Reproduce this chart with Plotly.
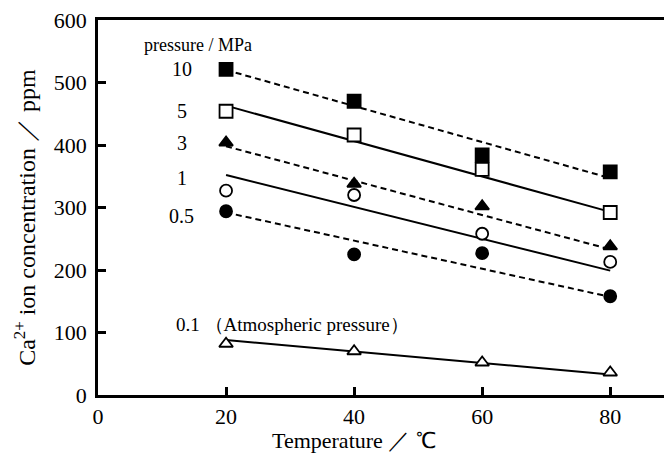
import plotly.graph_objects as go

temperature = [20, 40, 60, 80]
p10 = [521, 470, 384, 357]
p5 = [454, 416, 361, 292]
p3 = [404, 338, 302, 238]
p1 = [327, 320, 258, 213]
p05 = [294, 225, 227, 158]
p01 = [82, 70, 52, 36]

fit_x = [20, 80]
fit10 = [520, 347]
fit5 = [463, 293]
fit3 = [398, 233]
fit1 = [352, 199]
fit05 = [292, 157]
fit01 = [88, 33]

series = [
    ("10", p10, fit10, "square", "black", "dash"),
    ("5", p5, fit5, "square", "white", "solid"),
    ("3", p3, fit3, "triangle-up", "black", "dash"),
    ("1", p1, fit1, "circle", "white", "solid"),
    ("0.5", p05, fit05, "circle", "black", "dash"),
    ("0.1", p01, fit01, "triangle-up", "white", "solid"),
]

label_t = ["10", "5", "3", "1", "0.5"]
label_y = [521, 455, 404, 347, 286]

FONT = "Liberation Serif"
fig = go.Figure()
for name, vals, fit, sym, fill, dash in series:
    fig.add_trace(go.Scatter(x=fit_x, y=fit, mode="lines",
                             line=dict(color="black", width=2,
                                       dash="6px,4px" if dash == "dash" else "solid"),
                             showlegend=False, hoverinfo="skip"))
for name, vals, fit, sym, fill, dash in series:
    size = 13 if sym == "square" else 12
    fig.add_trace(go.Scatter(x=temperature, y=vals, mode="markers", name=name,
                             marker=dict(symbol=sym, size=size, color=fill,
                                         line=dict(color="black", width=1.8)),
                             showlegend=False))

fig.add_annotation(x=6.9, y=560, xref="x", yref="y", text="pressure / MPa",
                   showarrow=False, xanchor="left", font=dict(size=18, family=FONT, color="black"))
for t, yy in zip(label_t, label_y):
    fig.add_annotation(x=13.1, y=yy, xref="x", yref="y", text=t, showarrow=False,
                       xanchor="center", font=dict(size=20, family=FONT, color="black"))
fig.add_annotation(x=11.8, y=113, xref="x", yref="y", text="0.1 （Atmospheric pressure）",
                   showarrow=False, xanchor="left", font=dict(size=19, family=FONT, color="black"))

# axis titles
fig.add_annotation(x=0.452, y=-0.12, xref="paper", yref="paper", text="Temperature ／ ℃",
                   showarrow=False, xanchor="center", yanchor="middle",
                   font=dict(size=22, family=FONT, color="black"))
fig.add_annotation(x=-0.129, y=0.475, xref="paper", yref="paper",
                   text="Ca<sup>2+</sup> ion concentration ／ ppm", textangle=-90,
                   showarrow=False, xanchor="center", yanchor="middle",
                   font=dict(size=24, family=FONT, color="black"))

axis_common = dict(showline=True, linecolor="black", linewidth=2.5, ticks="inside",
                   ticklen=8, tickwidth=2.5, tickcolor="black", showgrid=False, zeroline=False,
                   automargin=False, tickfont=dict(size=22, family=FONT, color="black"))
fig.update_xaxes(range=[0, 88.4], tickvals=[0, 20, 40, 60, 80], mirror=True, **axis_common)
fig.update_yaxes(range=[0, 600], tickvals=[0, 100, 200, 300, 400, 500, 600], ticklabelstandoff=4,
                 **axis_common)
fig.update_layout(width=664, height=454, margin=dict(l=98, r=0, t=20, b=59),
                  paper_bgcolor="white", plot_bgcolor="white")
fig.write_html("out.html", config={"displayModeBar": False},
               post_script="document.body.style.margin='0';document.body.style.overflow='hidden';")
